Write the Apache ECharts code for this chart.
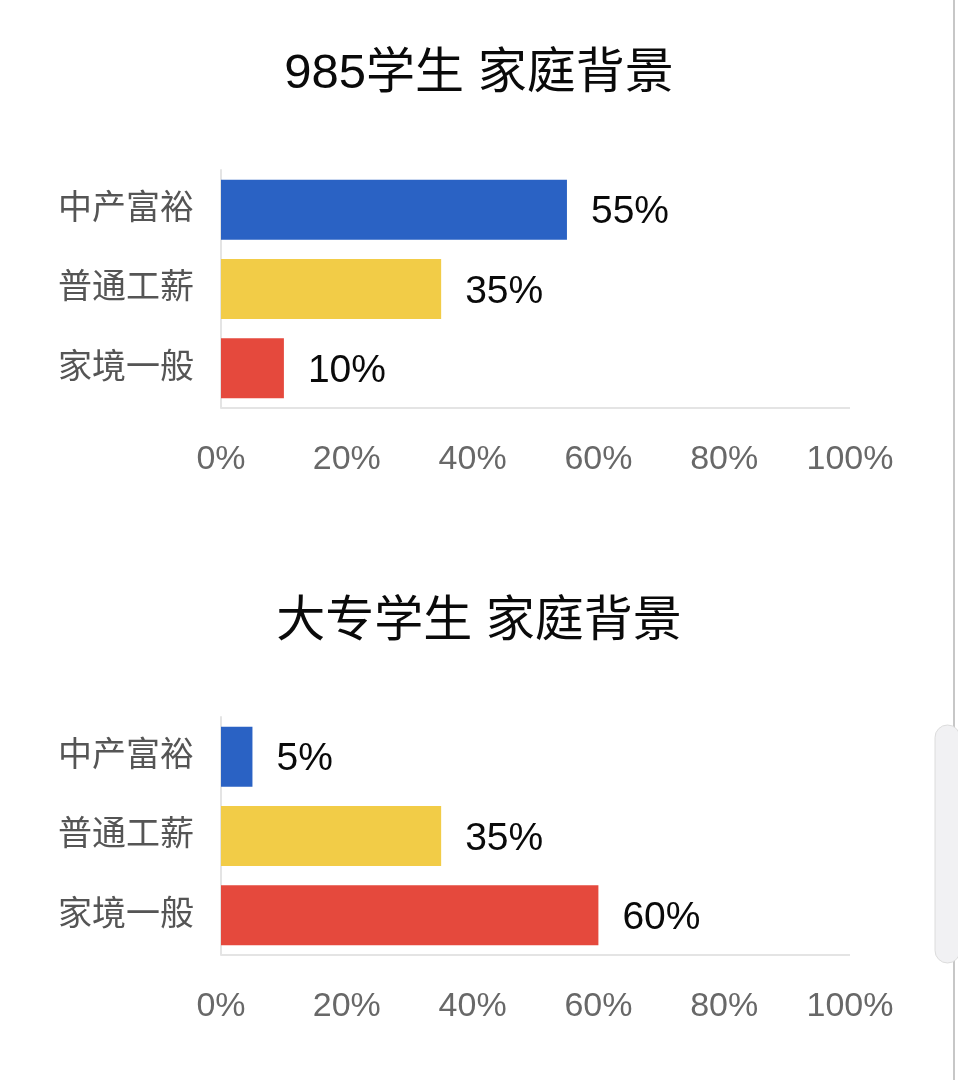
<!DOCTYPE html>
<html>
<head>
<meta charset="utf-8">
<script src="https://cdn.jsdelivr.net/npm/echarts@6/dist/echarts.min.js"></script>
<style>
html,body{margin:0;padding:0;background:#fff;}
#chart{width:958px;height:1080px;}
</style>
</head>
<body>
<div id="chart"></div>
<script>
// 分类
var categories = ['中产富裕', '普通工薪', '家境一般'];
// 985学生
var values985 = [55, 35, 10];
// 大专学生
var valuesDz = [5, 35, 60];
var titles = ['985学生 家庭背景', '大专学生 家庭背景'];
var colors = ['#2a62c4', '#f2cc47', '#e5493d'];
var ticks = [0, 20, 40, 60, 80, 100];

var FONT = '"Liberation Sans", "Noto Sans CJK SC", sans-serif';

function makeXAxis(idx) {
    return {
        gridIndex: idx,
        type: 'value',
        min: ticks[0],
        max: ticks[ticks.length - 1],
        interval: ticks[1] - ticks[0],
        axisLine: { show: false },
        axisTick: { show: false },
        splitLine: { show: false },
        axisLabel: {
            margin: 35,
            fontSize: 34,
            color: '#686868',
            fontFamily: FONT,
            formatter: '{value}%'
        }
    };
}
function makeYAxis(idx) {
    return {
        gridIndex: idx,
        type: 'category',
        inverse: true,
        data: categories,
        axisLine: { show: true, lineStyle: { color: '#e4e4e4', width: 2 } },
        axisTick: { show: false },
        axisLabel: {
            margin: 27,
            fontSize: 34,
            color: '#555',
            fontFamily: FONT,
            padding: [6, 0, 0, 0]
        }
    };
}
function makeSeries(idx, vals) {
    return {
        type: 'bar',
        xAxisIndex: idx,
        yAxisIndex: idx,
        barWidth: 60,
        data: vals.map(function (v, i) {
            return { value: v, itemStyle: { color: colors[i] } };
        }),
        label: {
            show: true,
            position: 'right',
            distance: 24,
            offset: [0, 3],
            fontSize: 39,
            color: '#0a0a0a',
            fontFamily: FONT,
            formatter: '{c}%'
        }
    };
}

var option = {
    animation: false,
    backgroundColor: '#fff',
    title: [
        { text: titles[0], left: 'center', top: 45, textStyle: { fontSize: 49, fontWeight: 'normal', color: '#0a0a0a', fontFamily: FONT } },
        { text: titles[1], left: 'center', top: 593, textStyle: { fontSize: 49, fontWeight: 'normal', color: '#0a0a0a', fontFamily: FONT } }
    ],
    grid: [
        { left: 221, right: 108, top: 170, height: 238 },
        { left: 221, right: 108, top: 717, height: 238 }
    ],
    xAxis: [makeXAxis(0), makeXAxis(1)],
    yAxis: [makeYAxis(0), makeYAxis(1)],
    series: [makeSeries(0, values985), makeSeries(1, valuesDz)],
    graphic: [
        // 底部横线
        { type: 'line', shape: { x1: 221, y1: 408, x2: 850, y2: 408 }, style: { stroke: '#e4e4e4', lineWidth: 2 } },
        { type: 'line', shape: { x1: 221, y1: 955, x2: 850, y2: 955 }, style: { stroke: '#e4e4e4', lineWidth: 2 } },
        // 右侧边框
        { type: 'line', shape: { x1: 954, y1: 0, x2: 954, y2: 1080 }, style: { stroke: '#b5b5b5', lineWidth: 1.5 } },
        { type: 'rect', shape: { x: 935, y: 725, width: 25, height: 238, r: 14 }, style: { fill: '#f1f1f3', stroke: '#dcdcdc', lineWidth: 1 } }
    ]
};

var mychart = echarts.init(document.getElementById('chart'));
mychart.setOption(option);
</script>
</body>
</html>
